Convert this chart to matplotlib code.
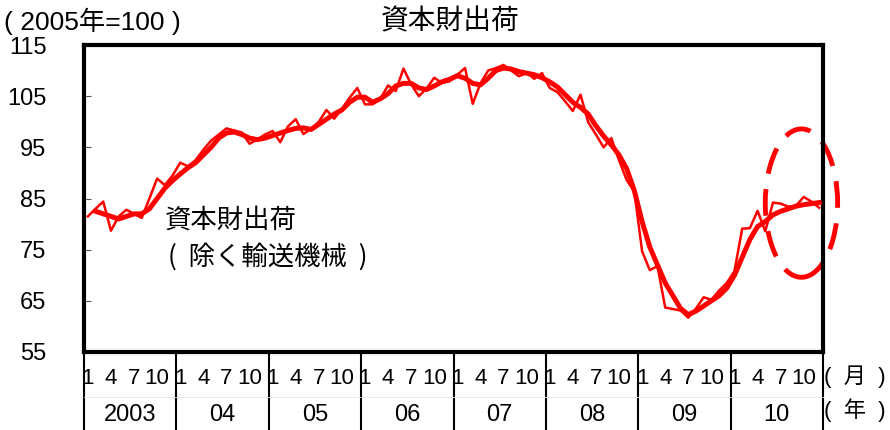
import numpy as np
import matplotlib.pyplot as plt
import matplotlib.transforms as mtransforms
from matplotlib.patches import Ellipse

plt.rcParams['font.family'] = ['Liberation Sans', 'Noto Sans CJK JP', 'DejaVu Sans']
cjk = ['Noto Sans CJK JP', 'Liberation Sans']

# monthly index, 2003/01 .. 2010/12 (2005=100)
monthly = [81.5, 83.0, 84.4, 78.7, 81.5, 82.8, 82.0, 81.2, 85.0, 88.9, 87.6, 89.5,
           92.0, 91.3, 92.5, 94.5, 96.3, 97.5, 98.7, 98.3, 97.9, 95.7, 96.5, 97.5,
           98.2, 96.0, 99.1, 100.5, 97.6, 98.6, 100.0, 102.3, 100.6, 102.5, 104.7, 106.6,
           103.4, 103.4, 104.5, 107.1, 106.0, 110.4, 107.3, 105.0, 106.5, 108.6, 107.6, 107.9,
           109.2, 110.5, 103.5, 107.5, 110.0, 110.5, 111.1, 110.0, 108.9, 109.5, 108.4, 109.5,
           106.6, 105.8, 104.0, 102.1, 105.3, 99.9, 97.5, 95.0, 96.8, 92.5, 88.6, 86.3,
           74.7, 71.0, 71.8, 63.7, 63.4, 63.1, 61.7, 63.5, 65.7, 65.2, 67.0, 68.5,
           70.8, 79.1, 79.2, 82.6, 78.6, 84.2, 84.0, 83.4, 83.6, 85.3, 84.4, 83.2]

# smoothed (3 month) series
smoothed = [np.nan, 82.5, 82.0, 81.5, 81.0, 81.5, 82.0, 82.0, 83.0, 85.0, 87.0, 88.5,
            89.8, 91.0, 92.0, 93.5, 95.0, 96.8, 97.8, 98.0, 97.5, 96.8, 96.5, 96.8,
            97.3, 97.8, 98.3, 98.7, 98.8, 98.5, 99.5, 100.5, 101.5, 102.3, 103.8, 104.8,
            104.8, 103.8, 104.5, 105.5, 107.0, 107.5, 107.5, 106.6, 106.3, 107.0, 107.8, 108.3,
            109.0, 108.5, 107.5, 107.2, 108.5, 110.0, 110.5, 110.3, 109.8, 109.5, 109.2, 108.6,
            107.8, 106.8, 105.3, 103.8, 102.8, 101.5, 99.2, 97.2, 95.5, 93.5, 90.8, 86.5,
            80.5, 75.5, 72.0, 68.5, 66.0, 63.5, 62.3, 63.0, 64.0, 65.0, 66.0, 67.5,
            70.0, 73.5, 77.0, 79.5, 80.5, 81.8, 82.5, 83.0, 83.5, 83.8, 84.0, 84.2]

years = ['2003', '04', '05', '06', '07', '08', '09', '10']
month_labels = ['1', '4', '7', '10']
yticks = [55, 65, 75, 85, 95, 105, 115]

x = np.arange(len(monthly)) + 0.5

fig = plt.figure(figsize=(8.9, 4.3), dpi=100)
ax = fig.add_axes([84 / 890, 78 / 430, 739 / 890, 307 / 430])

ax.plot(x, monthly, color='#ff0000', lw=1.8, zorder=3)
ax.plot(x, smoothed, color='#ff0000', lw=3.6, zorder=3, solid_joinstyle='round')

ell = Ellipse((93.2, 84.1), 9.4, 29, fill=False, edgecolor='#ff0000', lw=3.5,
              linestyle=(0, (5.5, 3.2)), clip_on=False, zorder=2)
ax.add_patch(ell)

ax.set_xlim(0, 96)
ax.set_ylim(55, 115)
ax.set_yticks(yticks)
ax.set_yticklabels([str(v) for v in yticks], fontsize=17)
ax.tick_params(axis='y', direction='in', length=5, width=0.8, color='#555555', pad=27)
ax.set_xticks([])
for s in ax.spines.values():
    s.set_linewidth(3)
    s.set_color('black')

# month / year rows under the axis
trans = mtransforms.blended_transform_factory(ax.transData, ax.transAxes)
for k, yr in enumerate(years):
    x0 = k * 12
    ax.plot([x0, x0], [0, -0.26], transform=trans, color='black', lw=1.5, clip_on=False)
    for j, m in enumerate(month_labels):
        ax.text(x0 + j * 3 + 0.5, -0.085, m, transform=trans, ha='center', va='center',
                fontsize=16)
    ax.text(x0 + 6, -0.205, yr, transform=trans, ha='center', va='center', fontsize=17)
ax.plot([96, 96], [0, -0.26], transform=trans, color='black', lw=1.5, clip_on=False)
ax.plot([0, 96], [-0.145, -0.145], transform=trans, color='#e6e6e6', lw=0.6, clip_on=False)

fig.text(855 / 890, 1 - 377 / 430, '(  月  )', ha='center', va='center', fontsize=16)
fig.text(855 / 890, 1 - 410 / 430, '(  年  )', ha='center', va='center', fontsize=16)

fig.text(450 / 890, 1 - 21 / 430, '資本財出荷', ha='center', va='center', fontsize=20,
         family=cjk)
fig.text(4 / 890, 1 - 21 / 430, '( 2005年=100 )', ha='left', va='center', fontsize=19)

fig.text(165 / 890, 1 - 220 / 430, '資本財出荷', ha='left', va='center', fontsize=19,
         family=cjk)
fig.text(168 / 890, 1 - 257 / 430, '(  除く輸送機械  )', ha='left', va='center', fontsize=19,
         family=cjk)

fig.savefig('out.png', dpi=100)
